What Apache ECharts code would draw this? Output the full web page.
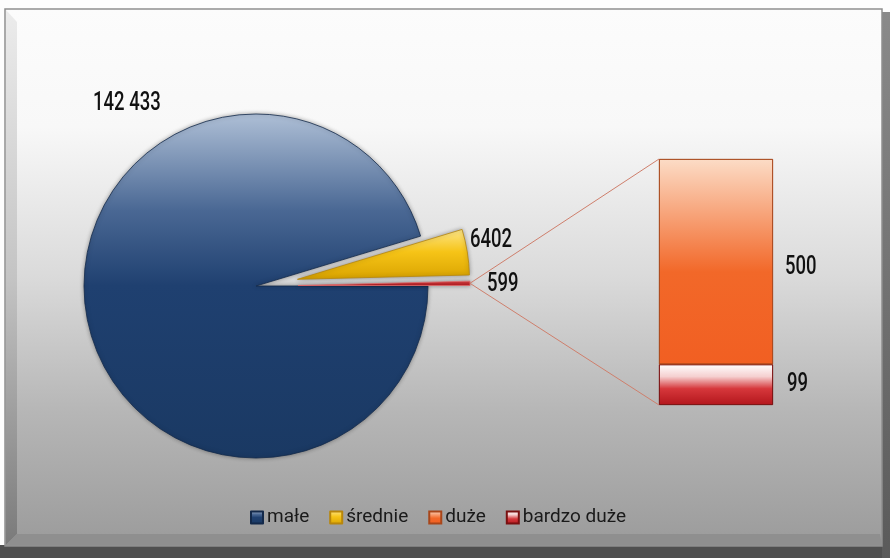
<!DOCTYPE html>
<html>
<head>
<meta charset="utf-8">
<script src="https://cdn.jsdelivr.net/npm/echarts@6/dist/echarts.min.js"></script>
<style>html,body{margin:0;padding:0;background:#fff}#c{width:890px;height:558px}</style>
</head>
<body>
<div id="c"></div>
<script>
// ---- data ----
const categories = ['małe', 'średnie', 'duże', 'bardzo duże'];
const pieNames = ['małe', 'średnie', 'duże i bardzo duże'];
const pieValues = [142433, 6402];      // małe, średnie
const barNames = ['duże', 'bardzo duże'];
const barValues = [500, 99];           // duże, bardzo duże

const otherTotal = barValues[0] + barValues[1];
const FONT = "Roboto,'Liberation Sans',sans-serif";

function fmt(v) {
  const s = String(v);
  return v >= 10000 ? s.replace(/\B(?=(\d{3})+(?!\d))/g, ' ') : s;
}

const lg = (stops) => ({type: 'linear', x: 0, y: 0, x2: 0, y2: 1,
  colorStops: stops.map(s => ({offset: s[0], color: s[1]}))});

const colBlue = lg([[0, '#aebfd6'], [0.28, '#4a6894'], [0.5, '#1f4070'], [1, '#1a3963']]);
const colYellow = lg([[0, '#fde68a'], [0.45, '#f6c417'], [1, '#d9a300']]);
const colRed = lg([[0, '#e0484a'], [1, '#b5161d']]);
const colOrange = lg([[0, '#fcdcc6'], [0.55, '#f26829'], [1, '#f15f22']]);
const colRedBar = lg([[0, '#ffffff'], [0.3, '#f5d0d0'], [0.6, '#d6373b'], [1, '#b3161c']]);

const chart = echarts.init(document.getElementById('c'), null, {renderer: 'canvas'});

const background = [
  {type: 'rect', silent: true, z: -10, shape: {x: 0, y: 0, width: 890, height: 558}, style: {fill: '#fdfdfd'}},
  {type: 'rect', silent: true, z: -9, shape: {x: 0, y: 545, width: 890, height: 13}, style: {fill: '#4f4f4f'}},
  {type: 'rect', silent: true, z: -9, shape: {x: 882, y: 12, width: 8, height: 546},
    style: {fill: lg([[0, '#8a8a8a'], [1, '#5a5a5a']])}},
  {type: 'rect', silent: true, z: -8, shape: {x: 5, y: 9, width: 877, height: 537},
    style: {fill: lg([[0, '#fcfcfc'], [0.22, '#f8f8f8'], [0.5, '#dadada'], [0.75, '#b6b6b6'], [1, '#9b9b9b']]),
      stroke: '#8e8e8e', lineWidth: 1.5}},
  {type: 'polygon', silent: true, z: -7, shape: {points: [[6, 10], [17, 22], [17, 534], [6, 545]]},
    style: {fill: lg([[0, '#ececec'], [0.5, '#c4c4c4'], [1, '#7a7a7a']])}},
  {type: 'polygon', silent: true, z: -7, shape: {points: [[6, 545], [17, 534], [880, 534], [882, 545]]},
    style: {fill: '#8f8f8f'}}
];

const SEL_OFFSET = 42;

const option = {
  animation: false,
  graphic: background,
  legend: {
    data: categories,
    left: 245, top: 503,
    itemWidth: 12, itemHeight: 12, itemGap: 20,
    icon: 'rect',
    textStyle: {fontFamily: FONT, fontSize: 19, color: '#1a1a1a', padding: [0, 0, 0, -1]},
    selectedMode: false
  },
  grid: {left: 659, top: 159, width: 114, height: 246},
  xAxis: {type: 'category', data: ['x'], show: false},
  yAxis: {type: 'value', min: 0, max: otherTotal, show: false},
  series: [
    {
      type: 'pie',
      center: [256, 286],
      radius: 172,
      startAngle: 0,
      clockwise: true,
      selectedMode: 'multiple',
      selectedOffset: SEL_OFFSET,
      emphasis: {disabled: true},
      label: {show: false},
      labelLine: {show: false},
      itemStyle: {borderColor: '#13294a', borderWidth: 0.8, shadowBlur: 4, shadowColor: 'rgba(0,0,0,0.35)'},
      data: [
        {name: pieNames[0], value: pieValues[0], itemStyle: {color: colBlue}},
        {name: pieNames[1], value: pieValues[1], selected: true, itemStyle: {color: colYellow, borderColor: '#b8860b'}},
        {name: pieNames[2], value: otherTotal, selected: true, itemStyle: {color: colRed, borderColor: '#e06a6a'}}
      ]
    },
    {
      type: 'bar', name: barNames[1], stack: 's', barWidth: '100%',
      data: [barValues[1]],
      itemStyle: {color: colRedBar, borderColor: '#7a1010', borderWidth: 0.8},
      label: {show: false},
      emphasis: {disabled: true}
    },
    {
      type: 'bar', name: barNames[0], stack: 's', barWidth: '100%',
      data: [barValues[0]],
      itemStyle: {color: colOrange, borderColor: '#a8461a', borderWidth: 0.8},
      label: {show: false},
      emphasis: {disabled: true}
    }
  ]
};

chart.setOption(option);

// value labels (condensed look) and connector lines, positioned from the library's layout
(function () {
  const pie = chart.getModel().getSeriesByIndex(0);
  const pd = pie.getData();
  const lay = pd.getItemLayout(2);
  const mid = (lay.startAngle + lay.endAngle) / 2;
  const px = lay.cx + Math.cos(mid) * (lay.r + SEL_OFFSET);
  const py = lay.cy + Math.sin(mid) * (lay.r + SEL_OFFSET);
  const top = chart.convertToPixel({gridIndex: 0}, [0, otherTotal]);
  const bot = chart.convertToPixel({gridIndex: 0}, [0, 0]);
  const split = chart.convertToPixel({gridIndex: 0}, [0, barValues[1]]);
  const rect = chart.getModel().getComponent('grid').coordinateSystem.getRect();

  const num = (txt, x, y) => ({
    type: 'text', silent: true, z: 20, x: x, y: y, scaleX: 0.74,
    style: {text: txt, fill: '#111', font: '500 25px ' + FONT, textAlign: 'left', textVerticalAlign: 'middle'}
  });

  // yellow slice outer-top corner
  const ly = pd.getItemLayout(1);
  const ymid = (ly.startAngle + ly.endAngle) / 2;
  const yx = ly.cx + Math.cos(ymid) * SEL_OFFSET + Math.cos(ly.startAngle) * ly.r;
  const yy = ly.cy + Math.sin(ymid) * SEL_OFFSET + Math.sin(ly.startAngle) * ly.r;

  const g = background.slice();
  g.push({type: 'polyline', silent: true, z: 5, shape: {points: [[rect.x, top[1]], [px, py], [rect.x, bot[1]]]},
    style: {stroke: '#cf7f6c', lineWidth: 1, fill: null}});
  g.push(num(fmt(pieValues[0]), 93, 104));
  g.push(num(fmt(pieValues[1]), yx + 8, yy + 11));
  g.push(num(fmt(otherTotal), px + 17, py + 1));
  g.push(num(fmt(barValues[0]), rect.x + rect.width + 12, (top[1] + split[1]) / 2 + 6));
  g.push(num(fmt(barValues[1]), rect.x + rect.width + 14, (split[1] + bot[1]) / 2));
  chart.setOption({graphic: g});
})();
</script>
</body>
</html>
